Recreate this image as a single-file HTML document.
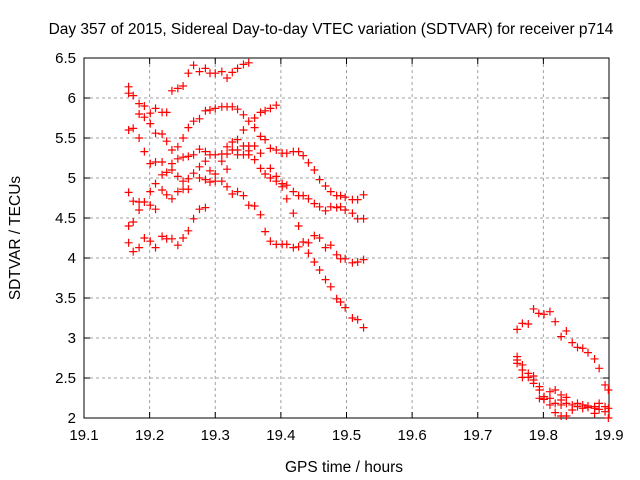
<!DOCTYPE html>
<html><head><meta charset="utf-8"><style>
html,body{margin:0;padding:0;background:#fff;}
svg{display:block;font-family:"Liberation Sans",sans-serif;}
</style></head><body>
<svg id="chart" width="640" height="480" viewBox="0 0 640 480">
<rect x="0" y="0" width="640" height="480" fill="#fff"/>
<text x="331" y="34" font-size="15.5" text-anchor="middle" fill="#000">Day 357 of 2015, Sidereal Day-to-day VTEC variation (SDTVAR) for receiver p714</text>
<text x="344" y="472" font-size="15.5" text-anchor="middle" fill="#000">GPS time / hours</text>
<text x="20" y="238" font-size="15.5" text-anchor="middle" fill="#000" transform="rotate(-90 20 238)">SDTVAR / TECUs</text>
<g id="grid"></g>
<g id="axes"></g>
<g id="points"></g>
</svg>
<script>
const xTicks = [19.1,19.2,19.3,19.4,19.5,19.6,19.7,19.8,19.9];
const xTickLabels = ["19.1","19.2","19.3","19.4","19.5","19.6","19.7","19.8","19.9"];
const yTicks = [2,2.5,3,3.5,4,4.5,5,5.5,6,6.5];
const yTickLabels = ["2","2.5","3","3.5","4","4.5","5","5.5","6","6.5"];
const sampleTimes = [19.168,19.175,19.184,19.192,19.201,19.209,19.219,19.226,19.234,19.243,19.251,19.259,19.267,19.276,19.285,19.292,19.300,19.310,19.318,19.326,19.334,19.343,19.351,19.360,19.369,19.376,19.384,19.393,19.402,19.409,19.419,19.427,19.434,19.442,19.451,19.459,19.468,19.476,19.485,19.491,19.498,19.509,19.517,19.526,
19.760,19.768,19.777,19.785,19.793,19.794,19.801,19.810,19.818,19.827,19.835,19.844,19.852,19.860,19.868,19.878,19.885,19.894,19.899];
const sampleVtec = [
[6.14,6.06,5.60,4.82,4.40,4.19],[6.03,5.62,4.71,4.45,4.08],[5.93,5.80,5.50,4.70,4.60,4.13],[5.90,5.76,5.33,4.70,4.25],
[5.81,5.68,5.18,4.83,4.66,4.21],[5.87,5.56,5.20,4.93,4.61,4.13],[5.82,5.55,5.20,5.04,4.85,4.27],[5.82,5.46,5.07,4.79,4.24],
[6.09,5.35,5.18,5.10,4.74,4.24],[6.12,5.39,5.24,5.02,4.83,4.16],[6.15,5.50,5.26,4.96,4.86,4.25],[6.31,5.63,5.27,4.99,4.86,4.34],
[6.41,5.71,5.29,5.06,4.49],[6.33,5.74,5.36,5.14,5.00,4.61],[6.37,5.84,5.33,5.21,4.98,4.63],[6.31,5.85,5.29,5.09,4.95],
[6.31,5.87,5.29,5.05,4.96],[6.33,5.89,5.30,5.21,4.96],[6.25,5.89,5.39,5.30,5.11,4.89],[6.32,5.89,5.45,5.35,4.80],
[6.37,5.86,5.48,5.35,5.29,4.83],[6.42,5.79,5.60,5.40,5.29,4.78],[6.44,5.71,5.40,5.34,5.29,4.66],[5.75,5.63,5.40,5.23,4.65],
[5.82,5.52,5.31,5.12,4.54],[5.84,5.48,5.05,4.33],[5.87,5.37,5.12,5.00,4.21],[5.91,5.35,5.02,4.96,4.17],
[5.31,4.93,4.89,4.17],[5.31,4.91,4.74,4.17],[5.33,4.83,4.56,4.13],[5.33,4.78,4.40,4.14],
[5.28,4.78,4.20],[5.19,4.74,4.19,4.06],[5.10,4.68,4.28,3.95],[4.98,4.64,4.25,3.85],
[4.90,4.59,4.13,3.73],[4.83,4.64,4.16,3.64],[4.78,4.63,4.04,3.49],[4.78,4.64,3.99,3.45],
[4.76,4.60,3.99,3.38],[4.73,4.56,3.94,3.25],[4.73,4.49,3.95,3.23],[4.79,4.49,3.98,3.13],
[3.108,2.767,2.725,2.683],[3.183,2.663,2.600,2.508],[3.175,2.558,2.508],[3.363,2.525,2.475,2.433],
[3.308],[2.392,2.350,2.246],[3.296,2.267,2.233],[3.329,2.329,2.246,2.163],
[3.204,2.350,2.183,2.067],[3.017,2.288,2.225,2.163,2.025],[3.088,2.258,2.183,2.025],[2.942,2.163,2.100],
[2.883,2.183,2.142],[2.871,2.163,2.121],[2.817,2.150,2.133],[2.738,2.142,2.121,2.058],
[2.621,2.183,2.108],[2.413,2.142,2.079],[2.350,2.121,2.0]
];

const NS = "http://www.w3.org/2000/svg";
const L = 84, R = 609, T = 58, B = 418;
const xMin = 19.1, xMax = 19.9, yMin = 2, yMax = 6.5;
function xScale(v){ return L + (v - xMin) / (xMax - xMin) * (R - L); }
function yScale(v){ return B - (v - yMin) / (yMax - yMin) * (B - T); }
function mk(tag, attrs, parent){
  const e = document.createElementNS(NS, tag);
  for (const k in attrs) e.setAttribute(k, attrs[k]);
  parent.appendChild(e);
  return e;
}
const grid = document.getElementById('grid');
const axes = document.getElementById('axes');
const pts = document.getElementById('points');

xTicks.forEach((t, i) => {
  const x = xScale(t);
  if (i > 0 && i < xTicks.length - 1) {
    const g = mk('line', {x1:x, y1:T, x2:x, y2:B, stroke:'#a0a0a0', 'stroke-width':1, 'stroke-dasharray':'3,3'}, grid);
    
    
  }
  const tk = mk('path', {d:`M${x} ${B}v-6M${x} ${T}v6`, stroke:'#000', 'stroke-width':1}, axes);
  
  
  const lb = mk('text', {x:x, y:B + 22, 'font-size':15, 'text-anchor':'middle', fill:'#000'}, axes);
  lb.textContent = xTickLabels[i];
  
  
});
yTicks.forEach((t, i) => {
  const y = yScale(t);
  if (i > 0 && i < yTicks.length - 1) {
    const g = mk('line', {x1:L, y1:y, x2:R, y2:y, stroke:'#a0a0a0', 'stroke-width':1, 'stroke-dasharray':'3,3'}, grid);
    
    
  }
  const tk = mk('path', {d:`M${L} ${y}h6M${R} ${y}h-6`, stroke:'#000', 'stroke-width':1}, axes);
  
  
  const lb = mk('text', {x:L - 8, y:y + 5, 'font-size':15, 'text-anchor':'end', fill:'#000'}, axes);
  lb.textContent = yTickLabels[i];
  
  
});
const border = mk('rect', {x:L, y:T, width:R - L, height:B - T, fill:'none', stroke:'#000', 'stroke-width':1}, axes);



sampleTimes.forEach((t, i) => {
  sampleVtec[i].forEach(v => {
    const x = xScale(t), y = yScale(v);
    const p = mk('path', {d:`M${x-4} ${y}h8M${x} ${y-4}v8`, stroke:'#ff0000', 'stroke-width':1.2}, pts);
    
    
  });
});
</script>
</body></html>
